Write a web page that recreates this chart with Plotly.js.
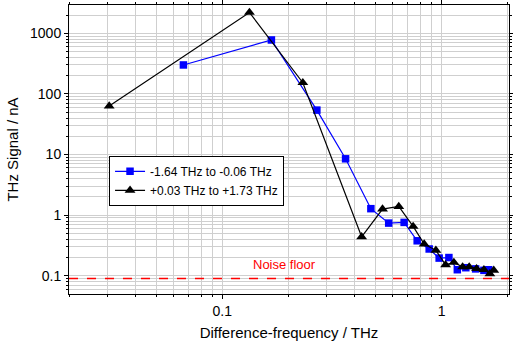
<!DOCTYPE html>
<html><head><meta charset="utf-8">
<script src="https://cdn.plot.ly/plotly-3.0.1.min.js"></script>
<style>body{margin:0;padding:0;background:#fff}#c{width:513px;height:346px}</style>
</head><body><div id="c"></div>
<script>
const negFreq = [0.0665, 0.1675, 0.27, 0.365, 0.476, 0.574, 0.675, 0.774, 0.878, 0.975, 1.08, 1.18, 1.29, 1.43, 1.56, 1.64];
const negSignal = [300, 775, 54, 8.5, 1.28, 0.74, 0.76, 0.378, 0.277, 0.196, 0.2, 0.126, 0.136, 0.13, 0.123, 0.126];
const posFreq = [0.0305, 0.133, 0.233, 0.432, 0.538, 0.638, 0.742, 0.833, 0.942, 1.043, 1.138, 1.247, 1.337, 1.444, 1.56, 1.66, 1.73];
const posSignal = [63, 2200, 153, 0.44, 1.26, 1.39, 0.652, 0.334, 0.263, 0.152, 0.166, 0.14, 0.14, 0.131, 0.126, 0.108, 0.123];
const noiseFloor = 0.09;
const labels = {neg: '-1.64 THz to -0.06 THz', pos: '+0.03 THz to +1.73 THz', noise: 'Noise floor'};

const traces = [
  {x: negFreq, y: negSignal, name: labels.neg, type: 'scatter', mode: 'lines+markers',
   line: {color: '#0000ff', width: 1.2}, marker: {symbol: 'square', size: 7.5, color: '#0000ff'}},
  {x: posFreq, y: posSignal, name: labels.pos, type: 'scatter', mode: 'lines+markers',
   line: {color: '#000000', width: 1.2}, marker: {symbol: 'triangle-up', size: 9.5, color: '#000000'}}
];
const gridC = '#cfcfcf';
const layout = {
  width: 513, height: 346,
  margin: {l: 69, r: 4, t: 5, b: 52},
  paper_bgcolor: '#fff', plot_bgcolor: '#fff',
  font: {family: 'Liberation Sans, Arial, sans-serif', size: 14, color: '#000'},
  showlegend: true,
  legend: {x: 0.091, y: 0.478, xanchor: 'left', yanchor: 'top', bgcolor: '#fff',
    bordercolor: '#000', borderwidth: 1, font: {size: 12}, itemwidth: 30, tracegroupgap: 0},
  xaxis: {type: 'log', range: [Math.log10(0.02), Math.log10(2.03)],
    tickvals: [0.1, 1], ticktext: ['0.1', '1'], tickfont: {size: 14},
    showline: true, linecolor: '#000', linewidth: 1, mirror: 'ticks',
    ticks: 'outside', ticklen: 4, tickcolor: '#000',
    showgrid: true, gridcolor: gridC, gridwidth: 1, zeroline: false,
    minor: {tickvals: [0.02,0.03,0.04,0.05,0.06,0.07,0.08,0.09,0.2,0.3,0.4,0.5,0.6,0.7,0.8,0.9,2],
      showgrid: true, gridcolor: gridC, ticks: 'outside', ticklen: 2, tickcolor: '#000'},
    title: {text: 'Difference-frequency / THz', font: {size: 15}, standoff: 9}},
  yaxis: {type: 'log', range: [-1.3, 3.466],
    tickvals: [0.1, 1, 10, 100, 1000], ticktext: ['0.1', '1', '10', '100', '1000'], tickfont: {size: 14},
    showline: true, linecolor: '#000', linewidth: 1, mirror: 'ticks',
    ticks: 'outside', ticklen: 4, tickcolor: '#000',
    showgrid: true, gridcolor: gridC, gridwidth: 1, zeroline: false,
    minor: {dtick: 'D1', showgrid: true, gridcolor: gridC, ticks: 'outside', ticklen: 2, tickcolor: '#000'},
    title: {text: 'THz Signal / nA', font: {size: 15}, standoff: 7}},
  shapes: [{type: 'line', xref: 'paper', x0: 0, x1: 1, yref: 'y', y0: noiseFloor, y1: noiseFloor,
    line: {color: '#ff0000', width: 1.5, dash: 'dash'}}],
  annotations: [{x: Math.log10(0.192), y: Math.log10(0.152), xref: 'x', yref: 'y', text: labels.noise,
    showarrow: false, font: {color: '#ff0000', size: 13}}]
};
Plotly.newPlot('c', traces, layout, {displayModeBar: false, staticPlot: true});
</script></body></html>
